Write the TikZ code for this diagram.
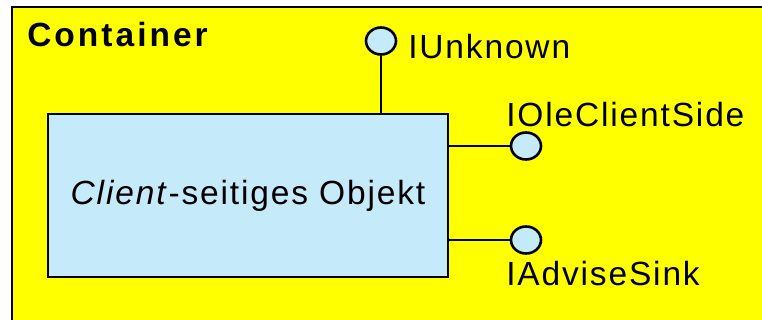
\documentclass[tikz,border=0pt]{standalone}
\usepackage{fontspec}
\setmainfont{Liberation Sans}[LetterSpace=5.5]
\usetikzlibrary{shapes.geometric}

\definecolor{contyellow}{RGB}{255,255,0}
\definecolor{objblue}{RGB}{197,234,250}

\begin{document}
\begin{tikzpicture}[x=1pt,y=-1pt,line width=2.6pt]
\clip (0,0) rectangle (762,320);
\draw[fill=contyellow] (12,7) rectangle (800,360);
\begin{scope}[every node/.style={anchor=base west,inner sep=0pt,font=\fontsize{33.5}{40}\selectfont}]
    \node (cont) at (26,47) {\bfseries\addfontfeature{LetterSpace=9}Container};
    \node (lunk) at (407,59) {IUnknown};
    \node (lside) at (505,127) {IOleClientSide};
    \node (lsink) at (505,285) {IAdviseSink};
\end{scope}
\begin{scope}[every node/.style={rectangle,draw,fill=objblue,minimum width=400pt,minimum height=163pt,font=\fontsize{33.5}{40}\selectfont}]
    \node (obj) at (248,195.5) {\textit{Client}-seitiges Objekt};
\end{scope}
\begin{scope}[every node/.style={ellipse,draw,fill=objblue,inner sep=0pt,minimum width=30pt,minimum height=27pt}]
    \node (unk) at (381,41) {};
    \node (side) at (526,146) {};
    \node (sink) at (526,240) {};
\end{scope}
\path (obj.north -| unk) edge (unk);
\path (obj.east |- side) edge (side);
\path (obj.east |- sink) edge (sink);
\end{tikzpicture}
\end{document}
